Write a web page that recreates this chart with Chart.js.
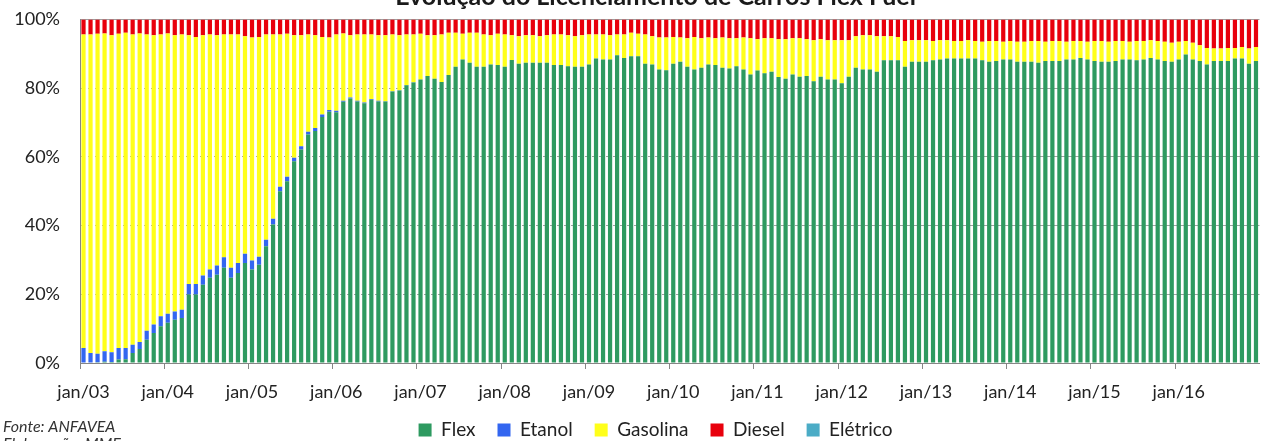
<!DOCTYPE html>
<html lang="pt-BR">
<head>
<meta charset="utf-8">
<title>Evolução do Licenciamento de Carros Flex Fuel</title>
<script src="https://cdn.jsdelivr.net/npm/chart.js@4.4.1/dist/chart.umd.min.js"></script>
<style>
  html, body { margin: 0; padding: 0; background: #fff; }
  #frame { position: relative; width: 1268px; height: 441px; overflow: hidden; }
  #holder { position: absolute; left: 0; top: -22px; width: 1268px; height: 500px; }
</style>
</head>
<body>
<div id="frame"><div id="holder"><canvas id="licenciamento"></canvas></div></div>
<script>
// meses de jan/03 a dez/16
const meses = ['jan', 'fev', 'mar', 'abr', 'mai', 'jun', 'jul', 'ago', 'set', 'out', 'nov', 'dez'];
const anos = ['03', '04', '05', '06', '07', '08', '09', '10', '11', '12', '13', '14', '15', '16'];

const yTicks = [0, 20, 40, 60, 80, 100];

// participação (%) no licenciamento mensal
const flex = [
  0, 0, 0.2, 0.4, 0.3, 1.0, 1.1, 2.9, 4.1, 6.8, 8.7, 10.7,
  11.7, 12.6, 13.1, 19.9, 19.9, 22.8, 24.8, 25.7, 27.7, 24.8, 26.2, 29.1,
  27.2, 28.6, 34.0, 40.3, 50.0, 52.9, 58.7, 62.1, 66.5, 67.5, 71.6, 73.1,
  73.0, 76.0, 77.0, 76.1, 75.6, 76.6, 76.1, 76.1, 79.0, 79.3, 80.8, 81.6,
  82.5, 83.5, 82.7, 81.8, 83.8, 86.2, 88.3, 87.4, 86.2, 86.2, 86.9, 86.7,
  86.2, 88.2, 87.1, 87.4, 87.4, 87.4, 87.4, 86.7, 86.7, 86.4, 86.2, 86.2,
  86.9, 88.6, 88.3, 88.3, 89.6, 88.8, 89.3, 89.3, 87.1, 86.9, 85.4, 85.2,
  87.1, 87.7, 86.2, 85.4, 85.9, 86.9, 86.7, 85.9, 85.7, 86.4, 85.4, 84.0,
  85.1, 84.3, 84.8, 83.2, 82.7, 84.0, 83.3, 83.5, 82.0, 83.3, 82.5, 82.5,
  81.4, 83.3, 85.9, 85.4, 85.4, 84.8, 88.1, 88.1, 88.1, 86.2, 87.7, 87.7,
  87.7, 88.1, 88.3, 88.6, 88.6, 88.6, 88.6, 88.6, 88.1, 87.7, 87.9, 88.3,
  88.3, 87.7, 87.7, 87.7, 87.4, 87.9, 87.9, 87.9, 88.3, 88.3, 88.8, 88.3,
  87.9, 87.7, 87.7, 87.9, 88.3, 88.3, 88.1, 88.3, 88.8, 88.3, 87.9, 87.7,
  88.3, 89.8, 88.3, 87.9, 86.9, 87.9, 87.9, 87.9, 88.6, 88.6, 87.1, 87.9
];
const etanol = [
  4.4, 2.9, 2.5, 3.0, 2.8, 3.4, 3.3, 2.4, 2.0, 2.6, 2.5, 2.9,
  2.6, 2.4, 2.4, 3.1, 3.1, 2.7, 2.4, 2.7, 3.1, 2.9, 2.9, 2.7,
  2.6, 2.3, 1.9, 1.7, 1.3, 1.3, 1.0, 1.0, 0.8, 0.9, 0.7, 0.5,
  0.4, 0.3, 0.3, 0.2, 0.2, 0.2, 0.2, 0.1, 0.1, 0.1, 0.1, 0.1,
  0, 0, 0, 0, 0, 0, 0, 0, 0, 0, 0, 0,
  0, 0, 0, 0, 0, 0, 0, 0, 0, 0, 0, 0,
  0, 0, 0, 0, 0, 0, 0, 0, 0, 0, 0, 0,
  0, 0, 0, 0, 0, 0, 0, 0, 0, 0, 0, 0,
  0, 0, 0, 0, 0, 0, 0, 0, 0, 0, 0, 0,
  0, 0, 0, 0, 0, 0, 0, 0, 0, 0, 0, 0,
  0, 0, 0, 0, 0, 0, 0, 0, 0, 0, 0, 0,
  0, 0, 0, 0, 0, 0, 0, 0, 0, 0, 0, 0,
  0, 0, 0, 0, 0, 0, 0, 0, 0, 0, 0, 0,
  0, 0, 0, 0, 0, 0, 0, 0, 0, 0, 0, 0
];
const gasolina = [
  91.2, 92.7, 93.1, 92.5, 92.3, 91.4, 91.7, 90.3, 89.8, 86.2, 84.2, 82.0,
  81.6, 80.4, 80.1, 72.4, 71.9, 69.9, 68.4, 67.0, 64.8, 67.9, 66.5, 63.3,
  64.9, 64.0, 59.7, 53.6, 44.3, 41.6, 35.7, 32.3, 28.3, 27.0, 22.6, 21.1,
  22.2, 19.6, 18.1, 19.3, 19.8, 18.8, 19.1, 19.2, 16.5, 16.0, 14.7, 13.9,
  13.3, 11.9, 12.7, 13.8, 12.3, 9.9, 7.5, 8.7, 9.9, 9.4, 8.5, 9.1,
  9.4, 7.2, 8.0, 8.0, 8.0, 7.7, 8.0, 8.9, 8.9, 9.0, 8.9, 9.2,
  8.7, 7.0, 7.3, 7.1, 6.0, 6.8, 6.8, 6.5, 8.5, 8.2, 9.3, 9.5,
  7.8, 7.0, 8.3, 9.5, 8.6, 7.8, 7.8, 8.8, 8.8, 8.1, 9.3, 10.5,
  9.1, 10.2, 9.7, 11.0, 11.5, 10.5, 11.2, 10.7, 11.9, 10.9, 11.4, 11.4,
  12.5, 10.6, 9.2, 10.0, 10.0, 10.3, 7.0, 7.0, 6.8, 7.5, 6.2, 6.2,
  6.2, 5.6, 5.6, 5.3, 5.1, 5.1, 5.3, 5.1, 5.4, 6.0, 5.8, 5.2,
  5.4, 5.8, 5.8, 6.0, 6.3, 5.6, 5.8, 5.8, 5.2, 5.4, 4.9, 5.2,
  5.8, 6.0, 5.8, 5.8, 5.4, 5.2, 5.6, 5.4, 5.1, 5.4, 5.6, 5.5,
  5.2, 3.9, 4.9, 4.6, 4.8, 3.6, 3.6, 3.8, 3.1, 3.4, 4.4, 4.1
];
const diesel = [
  4.4, 4.4, 4.2, 4.1, 4.6, 4.2, 3.9, 4.4, 4.1, 4.4, 4.6, 4.4,
  4.1, 4.6, 4.4, 4.6, 5.1, 4.6, 4.4, 4.6, 4.4, 4.4, 4.4, 4.9,
  5.3, 5.1, 4.4, 4.4, 4.4, 4.2, 4.6, 4.6, 4.4, 4.6, 5.1, 5.3,
  4.4, 4.1, 4.6, 4.4, 4.4, 4.4, 4.6, 4.6, 4.4, 4.6, 4.4, 4.4,
  4.2, 4.6, 4.6, 4.4, 3.9, 3.9, 4.2, 3.9, 3.9, 4.4, 4.6, 4.2,
  4.4, 4.6, 4.9, 4.6, 4.6, 4.9, 4.6, 4.4, 4.4, 4.6, 4.9, 4.6,
  4.4, 4.4, 4.4, 4.6, 4.4, 4.4, 3.9, 4.2, 4.4, 4.9, 5.3, 5.3,
  5.1, 5.3, 5.5, 5.1, 5.5, 5.3, 5.5, 5.3, 5.5, 5.5, 5.3, 5.5,
  5.8, 5.5, 5.5, 5.8, 5.8, 5.5, 5.5, 5.8, 6.1, 5.8, 6.1, 6.1,
  6.1, 6.1, 4.9, 4.6, 4.6, 4.9, 4.9, 4.9, 5.1, 6.3, 6.1, 6.1,
  6.1, 6.3, 6.1, 6.1, 6.3, 6.3, 6.1, 6.3, 6.5, 6.3, 6.3, 6.5,
  6.3, 6.5, 6.5, 6.3, 6.3, 6.5, 6.3, 6.3, 6.5, 6.3, 6.3, 6.5,
  6.3, 6.3, 6.5, 6.3, 6.3, 6.5, 6.3, 6.3, 6.1, 6.3, 6.5, 6.8,
  6.5, 6.3, 6.8, 7.5, 8.3, 8.5, 8.5, 8.3, 8.3, 8.0, 8.5, 8.0
];
const eletrico = [
  0, 0, 0, 0, 0, 0, 0, 0, 0, 0, 0, 0,
  0, 0, 0, 0, 0, 0, 0, 0, 0, 0, 0, 0,
  0, 0, 0, 0, 0, 0, 0, 0, 0, 0, 0, 0,
  0, 0, 0, 0, 0, 0, 0, 0, 0, 0, 0, 0,
  0, 0, 0, 0, 0, 0, 0, 0, 0, 0, 0, 0,
  0, 0, 0, 0, 0, 0, 0, 0, 0, 0, 0, 0,
  0, 0, 0, 0, 0, 0, 0, 0, 0, 0, 0, 0,
  0, 0, 0, 0, 0, 0, 0, 0, 0, 0, 0, 0,
  0, 0, 0, 0, 0, 0, 0, 0, 0, 0, 0, 0,
  0, 0, 0, 0, 0, 0, 0, 0, 0, 0, 0, 0,
  0, 0, 0, 0, 0, 0, 0, 0, 0, 0, 0, 0,
  0, 0, 0, 0, 0, 0, 0, 0, 0, 0, 0, 0,
  0, 0, 0, 0, 0, 0, 0, 0, 0, 0, 0, 0,
  0, 0, 0, 0, 0, 0, 0, 0, 0, 0, 0, 0
];

/** Monta os rótulos mensais (jan/03 ... dez/16). */
let labels = [];
for (const ano of anos) {
    for (const mes of meses) {
        labels.push(mes + '/' + ano);
    }
}

const series = [
    { label: 'Flex', data: flex, color: '#2E9A60' },
    { label: 'Etanol', data: etanol, color: '#3366F0' },
    { label: 'Gasolina', data: gasolina, color: '#FFFF1A' },
    { label: 'Diesel', data: diesel, color: '#E8000C' },
    { label: 'Elétrico', data: eletrico, color: '#4BACC6' }
];

let datasets = [];
for (const s of series) {
    datasets.push({
        label: s.label,
        data: s.data,
        backgroundColor: s.color,
        borderWidth: 0,
        barPercentage: 0.6,
        categoryPercentage: 1.0
    });
}

/** Nota de fonte no canto inferior esquerdo. */
const notaFonte = {
    id: 'notaFonte',
    afterDraw(chart) {
        const ctx = chart.ctx;
        ctx.save();
        ctx.font = 'italic 16px Lato';
        ctx.fillStyle = '#333';
        ctx.textBaseline = 'alphabetic';
        ctx.fillText('Fonte: ANFAVEA', 3, 454);
        ctx.fillText('Elaboração: MME', 3, 471);
        ctx.restore();
    }
};

// os rótulos passam um pouco da caixa do eixo, então não recortar
const semRecorte = (s) => { s._computeLabelArea = () => undefined; };

Chart.defaults.font.family = 'Lato';
Chart.defaults.color = '#222';

const ctx = document.getElementById('licenciamento').getContext('2d');
const grafico = new Chart(ctx, {
    type: 'bar',
    data: { labels: labels, datasets: datasets },
    options: {
        responsive: true,
        maintainAspectRatio: false,
        animation: false,
        layout: { padding: { left: 48, right: 5, top: 0, bottom: 28.5 } },
        plugins: {
            title: {
                display: true,
                text: 'Evolução do Licenciamento de Carros Flex Fuel',
                font: { size: 25, weight: 'bold' },
                color: '#1a1a1a',
                padding: { top: 3.5, bottom: 7.9 }
            },
            legend: {
                position: 'bottom',
                labels: { boxWidth: 13, boxHeight: 13, padding: 22, font: { size: 19 }, color: '#222' }
            },
            tooltip: { enabled: false }
        },
        scales: {
            x: {
                stacked: true,
                grid: {
                    drawOnChartArea: false,
                    drawTicks: true,
                    tickLength: 6,
                    color: (c) => (c.index % 12 === 0 ? '#868686' : 'rgba(0,0,0,0)')
                },
                border: { display: true, color: '#868686' },
                ticks: {
                    autoSkip: false,
                    maxRotation: 0,
                    minRotation: 0,
                    padding: 12,
                    font: { size: 18 },
                    color: '#222',
                    callback: function (v, i) { return i % 12 === 0 ? this.getLabelForValue(v) : ''; }
                },
                afterFit: (s) => { s.height = 35.5; semRecorte(s); }
            },
            y: {
                stacked: true,
                min: 0,
                max: 100,
                afterBuildTicks: (s) => { s.ticks = yTicks.map(v => ({ value: v })); },
                grid: {
                    drawTicks: false,
                    color: (c) => (c.tick && c.tick.value === 0 ? 'rgba(0,0,0,0)' : '#a0a0a0')
                },
                border: {
                    display: true,
                    color: '#868686',
                    dash: (c) => (c.tick && c.tick.value === 100 ? [] : [4, 3])
                },
                ticks: {
                    padding: 20,
                    font: { size: 18 },
                    color: '#222',
                    callback: (v) => v + '%'
                },
                afterFit: (s) => { s.width = 32; semRecorte(s); }
            }
        }
    },
    plugins: [notaFonte]
});
</script>
</body>
</html>
